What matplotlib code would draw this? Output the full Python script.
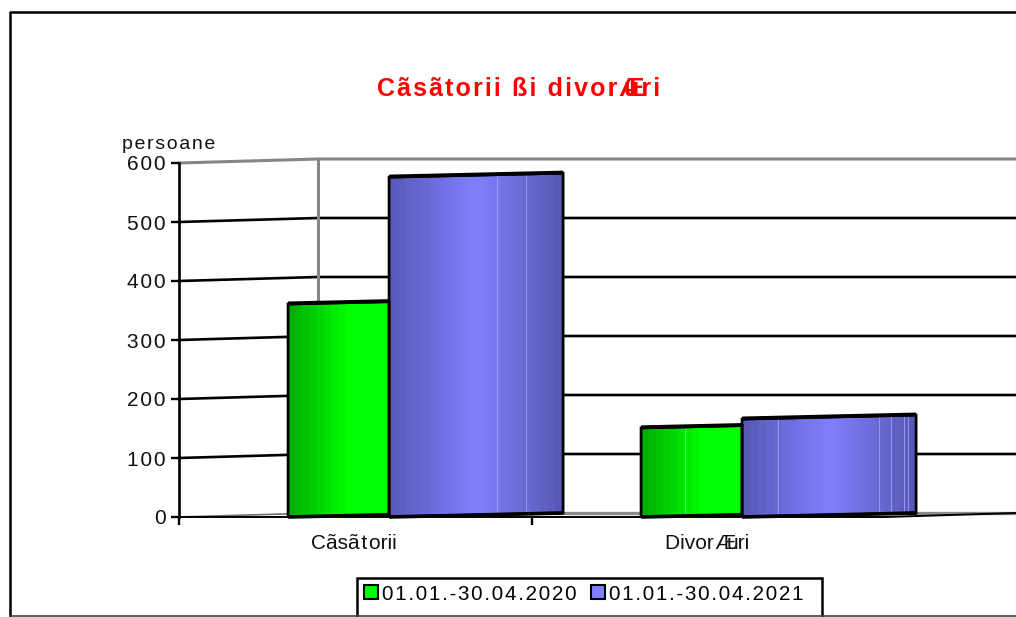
import numpy as np
import matplotlib
matplotlib.use("Agg")
import matplotlib.pyplot as plt
from matplotlib.lines import Line2D
from matplotlib.patches import Patch, Polygon, Rectangle

plt.rcParams["font.family"] = ["Liberation Sans", "DejaVu Sans"]

# ----------------------------
# Data
# ----------------------------
categories = ["Cãsãtorii", "DivorÆuri"]
series_names = ["01.01.-30.04.2020", "01.01.-30.04.2021"]
values_2020 = [361, 151]
values_2021 = [576, 166]
y_ticks = [0, 100, 200, 300, 400, 500, 600]
title = "Cãsãtorii ßi divorÆuri"
y_unit = "persoane"

# ----------------------------
# Layout (pixels of the 1016x617 picture)
# ----------------------------
W, H = 1016, 617
AX_LEFT, AX_TOP, AX_BOTTOM = 179, 163, 517
CAT_PX = 353
WALL_DX = 139 / CAT_PX          # depth of the back wall, in categories
WALL_DY = 4 / (AX_BOTTOM - AX_TOP) * 600
X_MAX = (W - AX_LEFT) / CAT_PX
SLOPE = WALL_DY / (174 / CAT_PX)

GREEN = "#00ff00"
BLUE = "#8080ff"
HAIR = "\u200a"


def spaced(s):
    # the original text is letter spaced
    return HAIR.join(s)


def loose(s):
    # category labels only have a gap around a few letters
    return s.replace("t", HAIR + "t" + HAIR).replace("rÆ", "r" + HAIR + "Æ")


def fx(px):
    return px / W


def fy(py):
    return 1 - py / H


fig = plt.figure(figsize=(W / 100, H / 100), dpi=100, facecolor="white")
ax = fig.add_axes([fx(AX_LEFT), fy(AX_BOTTOM), 1 - fx(AX_LEFT), (AX_BOTTOM - AX_TOP) / H])
ax.set_xlim(0, X_MAX)
ax.set_ylim(0, 600)
ax.patch.set_visible(False)


def gradient(stops, colors, n=24):
    # stepped shading of the cylinder-like bars
    pos = (np.arange(n) + 0.5) / n
    rgb = [np.interp(pos, stops, [c[i] for c in colors]) for i in range(3)]
    return np.dstack(rgb).reshape(1, n, 3) / 255


green_shade = gradient([0, 0.6, 1], [(0, 170, 0), (0, 255, 0), (0, 255, 0)], 14)
blue_shade = gradient([0, 0.5, 1], [(88, 88, 182), (128, 128, 255), (88, 88, 178)], 22)


def draw_bar(x0, width, value, shade, streaks=()):
    rise = SLOPE * width
    corners = [(x0, 0), (x0 + width, rise), (x0 + width, value + rise), (x0, value)]
    im = ax.imshow(shade, extent=[x0, x0 + width, 0, 600], aspect="auto",
                   interpolation="nearest", zorder=3)
    clip = Polygon(corners, closed=True, transform=ax.transData)
    im.set_clip_path(clip)
    for f in streaks:
        ax.plot([x0 + f * width] * 2, [SLOPE * f * width, value + SLOPE * f * width],
                color="#a6a6ff", lw=0.7, alpha=0.8, zorder=4)
    ax.add_patch(Polygon(corners, closed=True, fill=False, edgecolor="black", lw=2.0, zorder=5))
    ax.plot([x0, x0 + width], [value + 1, value + rise + 1],
            color="black", lw=2.8, zorder=5, solid_capstyle="butt")
    ax.plot([x0, x0 + width], [0, rise], color="black", lw=2.6, zorder=5,
            solid_capstyle="butt", clip_on=False)


# ----------------------------
# Back wall, floor and grid
# ----------------------------
for v in y_ticks[1:]:
    c = "#868686" if v == 600 else "black"
    lw = 2.2 if v == 600 else 1.9
    ax.plot([0, WALL_DX, X_MAX], [v, v + WALL_DY, v + WALL_DY], color=c, lw=lw,
            clip_on=False, zorder=1)
ax.plot([WALL_DX, WALL_DX], [WALL_DY, 600 + WALL_DY], color="#868686", lw=2.2, clip_on=False, zorder=1)
ax.plot([WALL_DX, X_MAX], [WALL_DY, WALL_DY], color="#8c8c8c", lw=2.4, zorder=1)
ax.plot([0, WALL_DX], [0, WALL_DY], color="#707070", lw=1.2, zorder=1)
ax.plot([0, 2, X_MAX], [0, 0, WALL_DY], color="black", lw=1.4, clip_on=False, zorder=2)

# ----------------------------
# Bars
# ----------------------------
BAR_START = 0.309
W_2020 = 101 / CAT_PX
W_2021 = 174 / CAT_PX
streaks_2020 = [(), (0.436,)]
streaks_2021 = [(0.62, 0.787), (0.207, 0.787, 0.856, 0.931, 0.954)]

for i in range(len(categories)):
    x0 = i + BAR_START
    draw_bar(x0, W_2020, values_2020[i], green_shade, streaks_2020[i])
    draw_bar(x0 + W_2020, W_2021, values_2021[i], blue_shade, streaks_2021[i])

ax.set_xlim(0, X_MAX)
ax.set_ylim(0, 600)

# ----------------------------
# Axes
# ----------------------------
for name in ["top", "right", "bottom"]:
    ax.spines[name].set_visible(False)
ax.spines["left"].set_linewidth(1.9)
ax.set_yticks(y_ticks)
ax.set_yticklabels([spaced(str(v)) for v in y_ticks], fontsize=15, color="#111111")
ax.set_xticks([0, 1])
ax.set_xticklabels([])
ax.tick_params(axis="both", length=5.8, width=1.7, pad=4)

# ----------------------------
# Texts
# ----------------------------
fig.canvas.draw()
renderer = fig.canvas.get_renderer()


def put_text(left_px, base_px, s, overlap=0, **kw):
    # The Æ sits on top of the next letter in the original
    if "Æ" not in s:
        return fig.text(fx(left_px), fy(base_px), s, va="baseline", **kw)
    head, tail = s.split("Æ")
    t = fig.text(fx(left_px), fy(base_px), head + "Æ", va="baseline", **kw)
    end = t.get_window_extent(renderer).x1
    fig.text((end - overlap) / W, fy(base_px), tail.strip(HAIR), va="baseline", **kw)
    return t


put_text(377, 96, spaced(title), overlap=20, fontsize=18, fontweight="bold", color="#ff0000")
put_text(122, 149, spaced(y_unit), fontsize=14, color="#111111")
put_text(311, 549, loose(categories[0]), fontsize=15, color="#111111")
put_text(665, 549, loose(categories[1]), overlap=10, fontsize=15, color="#111111")

# ----------------------------
# Legend and outer border
# ----------------------------
handles = [Patch(facecolor=GREEN, edgecolor="black", lw=1.5),
           Patch(facecolor=BLUE, edgecolor="black", lw=1.5)]
leg = fig.legend(handles, [spaced(s) for s in series_names], ncols=2, loc="center left",
                 bbox_to_anchor=(fx(357), fy(594)), fontsize=14.8, frameon=False,
                 borderaxespad=0, borderpad=0.33,
                 handlelength=0.68, handleheight=0.68, handletextpad=0.2, columnspacing=0.7)

fig.add_artist(Rectangle((fx(357), fy(620)), (822 - 357) / W, (620 - 578) / H, fill=False,
                         edgecolor="black", lw=1.8))
fig.add_artist(Line2D([fx(10), fx(10), 1], [fy(617), fy(12), fy(12)], color="black", lw=1.8))
fig.add_artist(Line2D([fx(10), 1], [fy(616), fy(616)], color="#444444", lw=1.2))

plt.savefig("out.png", dpi=100)
